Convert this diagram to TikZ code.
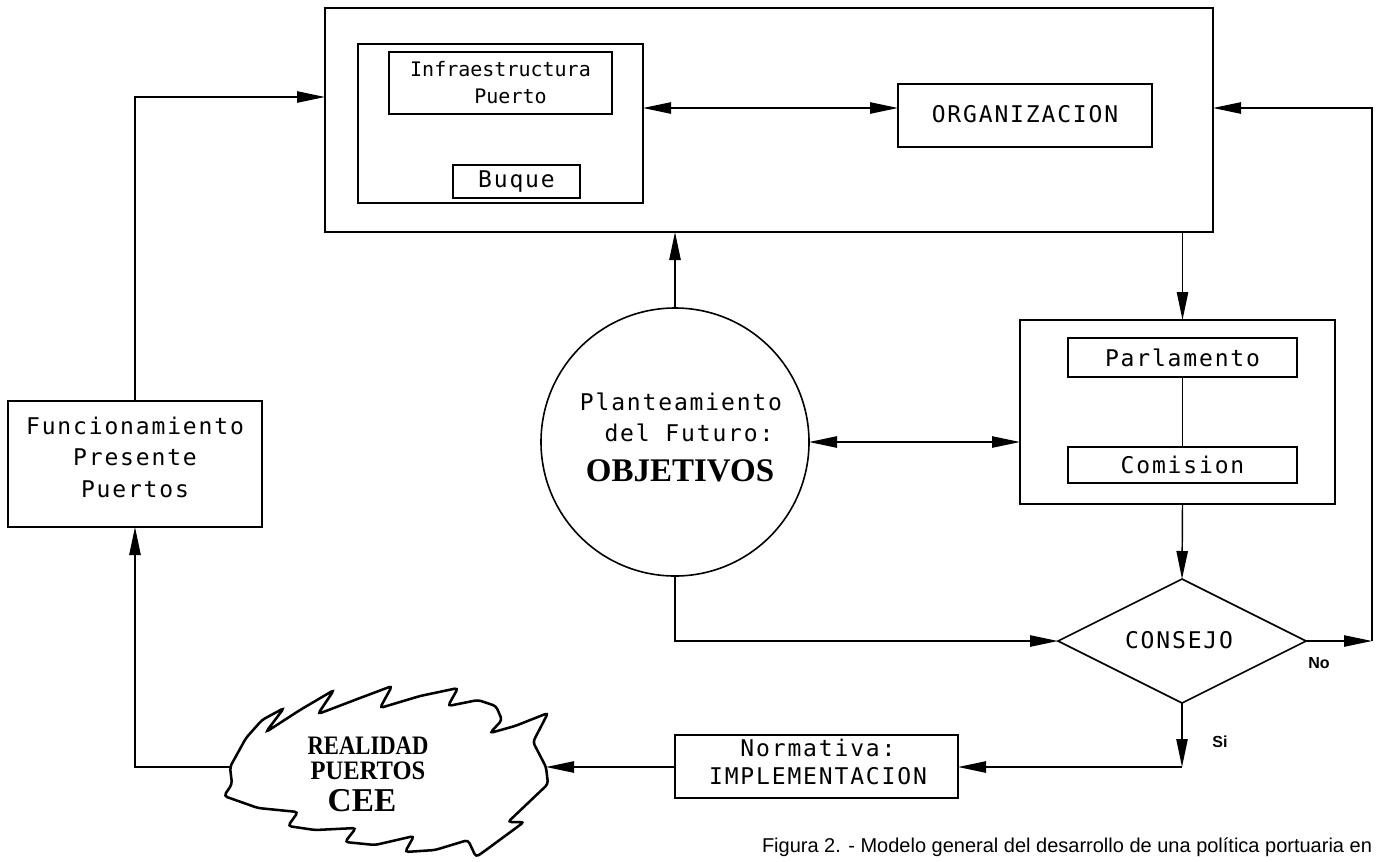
\documentclass[tikz,border=0pt]{standalone}
\usepackage{fontspec}
\usepackage{graphicx}
\usetikzlibrary{arrows.meta,shapes.geometric,fit}
\newfontfamily\pfont[LetterSpace=8]{DejaVu Sans Mono}
\newfontfamily\pfontn{DejaVu Sans Mono}
\newfontfamily\bsfont{Liberation Serif}
\newfontfamily\capfont{Liberation Sans}
\begin{document}
\begin{tikzpicture}[x=0.75pt,y=-0.75pt,
  every node/.style={inner sep=0pt, outer sep=0pt},
  box/.style={draw, line width=1.2pt, inner sep=0pt},
  lbl/.style={font=\pfont\fontsize{17.25}{23.6}\selectfont, align=center},
  arr/.style={line width=1.1pt, -{Triangle[length=21pt,width=8.5pt]}},
  dbl/.style={line width=1.1pt, {Triangle[length=21pt,width=8.5pt]}-{Triangle[length=21pt,width=8.5pt]}},
  ln/.style={line width=1.1pt},
  bsf/.style={font=\bsfont\bfseries\fontsize{20}{24}\selectfont},
]
\useasboundingbox (0,0) rectangle (1383,861);
\clip (0,0) rectangle (1383,861);

% boxes
\node[box, fit={(325,8)(1213,232)}] (big) {};
\node[box, fit={(358,44)(643,203)}] (inner) {};
\node[box, fit={(389,52)(612,114)}] (infra) {};
\node[font=\pfontn\fontsize{15}{20.3}\selectfont, align=center] (tinfra) at (infra.center) {Infraestructura\\\hspace*{1em}Puerto};
\node[box, fit={(453,165)(580,198)}] (buque) {};
\node[lbl] (tbuque) at (buque.center) {Buque};
\node[box, fit={(898,84)(1152,147)}] (org) {};
\node[lbl] (torg) at (1025,114) {ORGANIZACION};
\node[box, fit={(1020,320)(1335,504)}] (parlbox) {};
\node[box, fit={(1068,338)(1297,377)}] (parl) {};
\node[lbl] (tparl) at (parl.center) {Parlamento};
\node[box, fit={(1068,447)(1297,483)}] (com) {};
\node[lbl] (tcom) at (com.center) {Comision};
\node[box, fit={(8,401)(262,527)}] (func) {};
\node[lbl] (tfunc) at (135,457) {Funcionamiento\\Presente\\Puertos};
\node[box, fit={(675,735)(958,798)}] (norm) {};
\node[font=\pfont\fontsize{17.25}{21}\selectfont, align=center] (tnorm) at (818,762) {Normativa:\\IMPLEMENTACION};
\node[draw, circle, line width=1.2pt, minimum size=201pt] (obj) at (675,442) {};
\node[lbl] (t1) at (681,402) {Planteamiento};
\node[lbl] (t2) at (689,433) {del Futuro:};
\node[font=\bsfont\bfseries\fontsize{24.75}{28}\selectfont] (t3) at (680,471) {OBJETIVOS};
\node[draw, diamond, aspect=2, minimum width=186pt, minimum height=93pt, line width=1.2pt] (cons) at (1182,641) {};
\node[lbl] (tc) at (1179,640) {CONSEJO};

% cloud
\draw[line width=1.9pt, rounded corners=2.5pt]
 (230,767) -- (246,738) -- (262,720) -- (284,708) -- (266,732)
 -- (300,710) -- (334,690) -- (318,714)
 -- (360,698) -- (392,686) -- (380,708)
 -- (420,696) -- (458,688) -- (448,706)
 -- (478,700) -- (496,706) -- (502,720) -- (490,733)
 -- (515,726) -- (548,713) -- (533,742) -- (546,767)
 -- (548,784) -- (508,822) -- (524,822)
 -- (486,850) -- (476,857) -- (468,840)
 -- (435,850) -- (405,852) -- (414,836)
 -- (375,845) -- (345,842) -- (356,828)
 -- (315,830) -- (288,826) -- (298,812)
 -- (258,808) -- (224,796) -- (232,784) -- cycle;
\coordinate (cloudR) at (546,767);
\coordinate (cloudL) at (230,767);
\node[bsf] (c1) at (368,746) {\scalebox{0.85}[1]{REALIDAD}};
\node[bsf] (c2) at (368,771) {\scalebox{0.92}[1]{PUERTOS}};
\node[font=\bsfont\bfseries\fontsize{25}{28}\selectfont] (c3) at (362,801) {CEE};

% labels
\node[font=\capfont\bfseries\fontsize{12}{14}\selectfont] (no) at (1319,663) {No};
\node[font=\capfont\bfseries\fontsize{12}{14}\selectfont] (si) at (1220,742) {Si};
\node[font=\capfont\fontsize{15}{18}\selectfont, anchor=base west] (cap) at (762,852) {Figura 2. - Modelo general del desarrollo de una política portuaria en};

% connectors
\coordinate (r97) at (135,97);
\coordinate (r108) at (0,108);
\coordinate (corner1) at (1372,641);
\coordinate (corner2) at (1182,767);
\draw[arr] (func.north) |- (big.west |- r97);
\draw[dbl] (inner.east |- r108) -- (org.west |- r108);
\draw[arr] (cons.east) -- (corner1);
\draw[arr] (corner1) |- (big.east |- r108);
\draw[arr] (parl.north |- big.south) -- (parl.north |- parlbox.north);
\draw[ln] (parl.south) -- (com.north);
\draw[arr] (parl.south |- parlbox.south) -- (cons.north);
\draw[arr] (obj.north) -- (obj.north |- big.south);
\draw[dbl] (obj.east) -- (parlbox.west |- obj.east);
\draw[arr] (obj.south) |- (cons.west);
\draw[arr] (cons.south) -- (corner2);
\draw[arr] (corner2) -- (norm.east |- corner2);
\draw[arr] (norm.west |- corner2) -- (cloudR);
\draw[arr] (cloudL) -| (func.south);
\end{tikzpicture}
\end{document}
